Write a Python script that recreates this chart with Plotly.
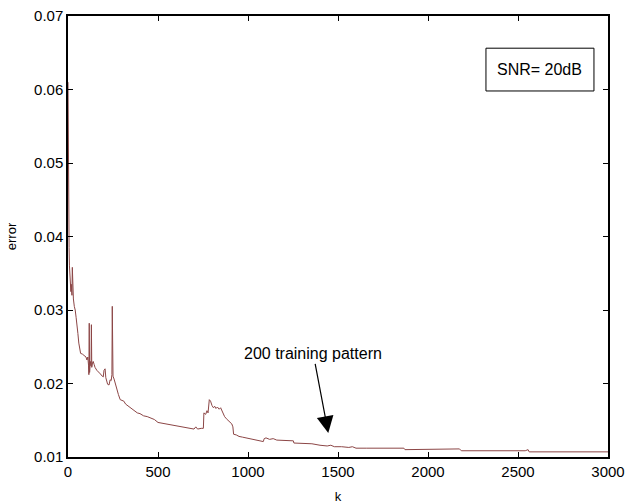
import plotly.graph_objects as go

k = [0, 2, 4, 6, 8, 10, 12, 14, 16, 18, 20, 22, 24, 26, 28, 30, 35, 40, 45, 50,
     55, 60, 65, 70, 80, 90, 100, 105, 110, 114, 116, 118, 120, 124, 128, 130, 132, 136, 140, 145,
     150, 160, 170, 180, 190, 196, 200, 206, 210, 215, 220, 228, 234, 240, 244, 246, 248, 250, 256, 262,
     270, 280, 290, 300, 310, 320, 330, 350, 370, 385, 400, 420, 440, 460, 480, 500, 520, 560, 600, 640,
     680, 700, 710, 720, 740, 752, 755, 765, 772, 778, 785, 792, 800, 808, 815, 822, 830, 840, 848, 855,
     860, 870, 880, 890, 900, 910, 916, 920, 935, 950, 970, 990, 1010, 1030, 1050, 1068, 1085, 1090, 1100, 1120,
     1140, 1160, 1180, 1200, 1230, 1252, 1255, 1300, 1340, 1355, 1400, 1440, 1460, 1480, 1520, 1560, 1580, 1600, 1660, 1700,
     1760, 1820, 1866, 1872, 1900, 1960, 2000, 2060, 2120, 2140, 2160, 2175, 2185, 2250, 2350, 2450, 2540, 2556, 2562, 2600,
     2640, 2680, 2700, 2720, 2750, 2800, 2900, 3000]

error = [0.0610, 0.0450, 0.0400, 0.0385, 0.0360, 0.0345, 0.0330, 0.0340, 0.0325, 0.0335, 0.0330, 0.0320, 0.0358, 0.0325, 0.0320, 0.0315, 0.0305, 0.0300, 0.0290, 0.0282,
         0.0268, 0.0255, 0.0248, 0.0241, 0.0240, 0.0238, 0.0236, 0.0232, 0.0236, 0.0225, 0.0212, 0.0282, 0.0215, 0.0230, 0.0224, 0.0280, 0.0222, 0.0228, 0.0230, 0.0226,
         0.0222, 0.0218, 0.0216, 0.0213, 0.0210, 0.0209, 0.0218, 0.0220, 0.0208, 0.0203, 0.0199, 0.0198, 0.0205, 0.0204, 0.0212, 0.0305, 0.0240, 0.0210, 0.0206, 0.0200,
         0.0192, 0.0185, 0.0178, 0.0177, 0.0176, 0.0172, 0.0170, 0.0166, 0.0163, 0.0160, 0.0159, 0.0156, 0.0155, 0.0153, 0.0151, 0.0147, 0.0146, 0.0144, 0.0142, 0.0140,
         0.0139, 0.0138, 0.0141, 0.0138, 0.0139, 0.0139, 0.0160, 0.0158, 0.0163, 0.0160, 0.0178, 0.0176, 0.0170, 0.0167, 0.0169, 0.0166, 0.0168, 0.0165, 0.0167, 0.0163,
         0.0160, 0.0155, 0.0152, 0.0150, 0.0148, 0.0145, 0.0141, 0.0131, 0.0130, 0.0128, 0.0127, 0.0126, 0.0125, 0.0124, 0.0123, 0.0122, 0.0121, 0.0125, 0.0126, 0.0124,
         0.0125, 0.0123, 0.0123, 0.0122, 0.0122, 0.0122, 0.0119, 0.0119, 0.0118, 0.0118, 0.0116, 0.0115, 0.0116, 0.0114, 0.0114, 0.0113, 0.0114, 0.0112, 0.0112, 0.0112,
         0.0112, 0.0112, 0.0112, 0.0110, 0.0110, 0.0110, 0.0110, 0.0110, 0.0110, 0.0111, 0.0110, 0.0111, 0.01085, 0.01085, 0.01085, 0.01085, 0.01085, 0.0110, 0.0107, 0.0107,
         0.0107, 0.0108, 0.0107, 0.0108, 0.0107, 0.0107, 0.0107, 0.0107]

x_ticks = [0, 500, 1000, 1500, 2000, 2500, 3000]
y_ticks = [0.01, 0.02, 0.03, 0.04, 0.05, 0.06, 0.07]
y_tick_labels = ["0.01", "0.02", "0.03", "0.04", "0.05", "0.06", "0.07"]

fig = go.Figure()
fig.add_trace(go.Scatter(x=k, y=error, mode="lines",
                         line=dict(color="#8c4646", width=1), showlegend=False))

axis_common = dict(showgrid=False, zeroline=False, showline=True, linecolor="black",
                   linewidth=1.5, mirror="ticks", ticks="inside", ticklen=5,
                   tickcolor="black", automargin=False,
                   tickfont=dict(family="Arial", size=15, color="black"))

fig.update_xaxes(range=[0, 3000], tickvals=x_ticks,
                 title=dict(text="k", font=dict(family="Arial", size=13, color="black"), standoff=14),
                 **axis_common)
fig.update_yaxes(range=[0.01, 0.07], tickvals=y_ticks, ticktext=y_tick_labels,
                 title=dict(text="error", font=dict(family="Arial", size=13, color="black"), standoff=14),
                 **axis_common)

fig.add_shape(type="rect", xref="paper", yref="paper", x0=0.774, x1=0.974, y0=0.830, y1=0.927,
              line=dict(color="black", width=1), fillcolor="white")
fig.add_annotation(xref="paper", yref="paper", x=0.874, y=0.8776, xanchor="center", yanchor="middle",
                   text="SNR= 20dB", showarrow=False,
                   font=dict(family="Arial", size=16, color="black"))

fig.add_annotation(x=1446, y=0.01327, xref="x", yref="y", text="200 training pattern",
                   showarrow=True, ax=-15, ay=-79, arrowhead=2, arrowsize=2.8, arrowwidth=1.2,
                   arrowcolor="black", font=dict(family="Arial", size=16, color="black"))

fig.update_layout(width=627, height=504, margin=dict(l=68, r=19, t=16, b=47),
                  paper_bgcolor="white", plot_bgcolor="white")

fig.write_html("out.html")
